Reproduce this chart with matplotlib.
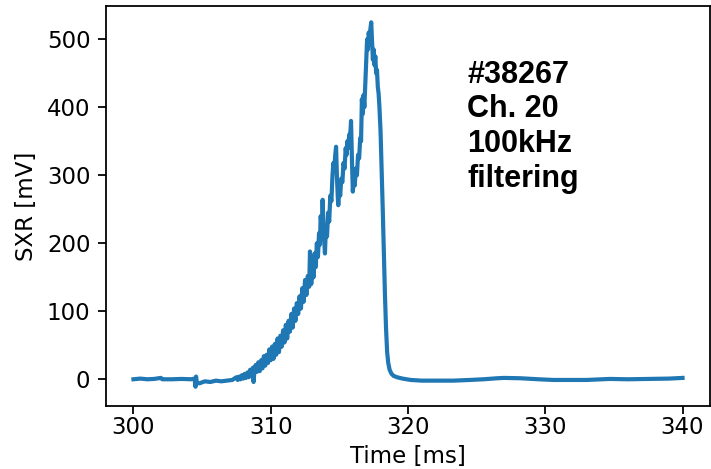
import matplotlib
matplotlib.use("Agg")
import numpy as np
import matplotlib.pyplot as plt

# SXR signal (time in ms, signal in mV)
time_ms = [
    300.00, 300.50, 301.00, 301.50, 302.00, 302.10, 302.80, 303.50, 304.20, 304.45,
    304.52, 304.56, 304.62, 304.80, 305.20, 305.60, 306.00, 306.40, 306.80, 307.20,
    307.50, 307.60, 307.70, 307.80, 307.90, 308.00, 308.10, 308.20, 308.30, 308.40,
    308.50, 308.60, 308.70, 308.75, 308.80, 308.90, 309.00, 309.10, 309.20, 309.30,
    309.40, 309.50, 309.60, 309.70, 309.80, 309.90, 310.00, 310.10, 310.20, 310.30,
    310.40, 310.50, 310.60, 310.70, 310.80, 310.90, 311.00, 311.10, 311.20, 311.30,
    311.40, 311.50, 311.60, 311.70, 311.80, 311.90, 312.00, 312.10, 312.20, 312.30,
    312.40, 312.50, 312.60, 312.70, 312.80, 312.86, 312.95, 313.05, 313.12, 313.20,
    313.28, 313.36, 313.44, 313.52, 313.58, 313.64, 313.72, 313.78, 313.86, 313.95,
    314.02, 314.10, 314.18, 314.26, 314.34, 314.42, 314.50, 314.56, 314.62, 314.70,
    314.76, 314.82, 314.88, 314.92, 315.00, 315.06, 315.14, 315.22, 315.30, 315.38,
    315.46, 315.52, 315.58, 315.64, 315.72, 315.78, 315.85, 315.92, 315.98, 316.05,
    316.12, 316.20, 316.28, 316.36, 316.44, 316.52, 316.58, 316.64, 316.70, 316.76,
    316.82, 316.90, 316.96, 317.02, 317.08, 317.14, 317.20, 317.26, 317.32, 317.38,
    317.44, 317.50, 317.56, 317.62, 317.68, 317.74, 317.80, 317.86, 317.92, 318.00,
    318.08, 318.16, 318.24, 318.32, 318.40, 318.48, 318.56, 318.66, 318.80, 318.95,
    319.20, 319.60, 320.20, 321.00, 322.00, 323.30, 324.50, 325.50, 326.50, 327.00,
    328.20, 329.50, 330.60, 332.00, 333.00, 334.70, 336.00, 337.50, 339.00, 340.00,
]
sxr_mv = [
    0, 1, 0, 0.5, 2, 0, 0, 0.5, 0, 1,
    -11, 4, -5, -6, -3, -4, -2, -3, -2, -1,
    3, -1, 4, 0, 6, 1, 8, 2, 10, 3,
    14, 5, 17, -4, 9, 21, 11, 25, 12, 28,
    16, 34, 20, 36, 24, 44, 28, 48, 30, 52,
    36, 60, 40, 64, 48, 72, 54, 80, 60, 86,
    70, 96, 76, 104, 86, 112, 96, 122, 104, 134,
    114, 146, 124, 152, 136, 188, 140, 168, 150, 185,
    165, 200, 180, 215, 198, 240, 220, 264, 215, 185,
    225, 210, 245, 232, 270, 262, 300, 318, 305, 330,
    342, 300, 270, 256, 280, 270, 295, 290, 318, 310,
    340, 330, 350, 340, 360, 355, 380, 320, 276, 295,
    285, 310, 300, 330, 325, 355, 350, 412, 390, 418,
    400, 440, 470, 500, 485, 510, 495, 515, 525, 498,
    470, 485, 462, 475, 450, 455, 430, 420, 400, 365,
    310, 250, 185, 125, 75, 40, 24, 14, 8, 5,
    3, 1, -1, -2, -2, -2, -1, 0, 1.5, 2,
    1.5, 0, -1, -1, -1, 0.5, 0, 0.5, 1, 2,
]

label_text = "#38267\nCh. 20\n100kHz\nfiltering"

plt.rcParams.update({
    "font.size": 16.5,
    "axes.linewidth": 1.28,
    "xtick.major.size": 5.6,
    "ytick.major.size": 5.6,
    "xtick.major.width": 1.28,
    "ytick.major.width": 1.28,
    "xtick.major.pad": 1.5,
    "ytick.major.pad": 5.6,
})

fig = plt.figure(figsize=(7.11, 4.69), dpi=100)
ax = fig.add_axes([106 / 711, 1 - 406 / 469, 604 / 711, 400 / 469])

ax.plot(time_ms, sxr_mv, color="#1f77b4", linewidth=3.0)

ax.set_xlim(298, 342)
ax.set_ylim(-39.3, 549)
ax.set_xticks([300, 310, 320, 330, 340])
ax.set_yticks([0, 100, 200, 300, 400, 500])

ax.set_xlabel("Time [ms]", labelpad=4.5)
ax.set_ylabel("SXR [mV]", labelpad=6)

ax.text(324.3, 470, label_text, fontsize=22, fontweight="bold",
        family="Liberation Sans", va="top", ha="left")

fig.savefig("out.png", dpi=100)
